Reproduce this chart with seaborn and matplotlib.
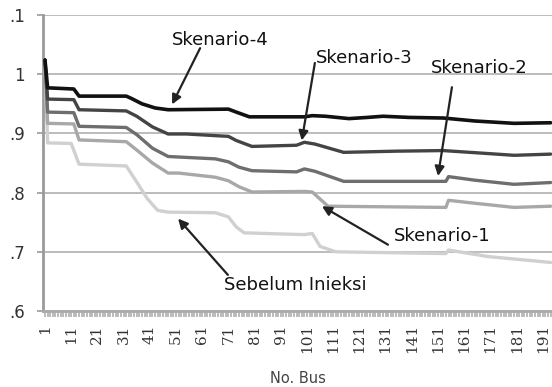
import matplotlib
matplotlib.use("Agg")
import matplotlib.pyplot as plt
import seaborn as sns
import numpy as np

# ---- data (bus number, voltage p.u.) read at breakpoints ----
bus_s4 = [1, 2, 12, 14, 32, 34, 38, 43, 48, 71, 74, 79, 100, 103, 108, 117, 124, 130, 140, 153, 165, 180, 194]
v_s4 = [1.024, 0.977, 0.975, 0.963, 0.963, 0.959, 0.950, 0.943, 0.940, 0.941, 0.936, 0.928, 0.928, 0.930,
        0.929, 0.925, 0.927, 0.929, 0.927, 0.926, 0.921, 0.917, 0.918]

bus_s3 = [1, 2, 12, 14, 32, 36, 42, 48, 55, 71, 74, 80, 97, 100, 104, 115, 135, 153, 170, 180, 194]
v_s3 = [1.024, 0.958, 0.957, 0.940, 0.938, 0.929, 0.911, 0.899, 0.899, 0.895, 0.888, 0.878, 0.880, 0.885,
        0.882, 0.868, 0.870, 0.871, 0.866, 0.863, 0.865]

bus_s2 = [1, 2, 12, 14, 32, 36, 42, 48, 66, 71, 75, 80, 97, 100, 104, 115, 154, 155, 165, 180, 194]
v_s2 = [1.024, 0.936, 0.935, 0.912, 0.910, 0.898, 0.875, 0.861, 0.857, 0.852, 0.843, 0.837, 0.835, 0.840,
        0.836, 0.819, 0.819, 0.827, 0.821, 0.814, 0.817]

bus_s1 = [1, 2, 12, 14, 32, 36, 42, 48, 52, 66, 71, 75, 80, 100, 103, 109, 154, 155, 165, 180, 194]
v_s1 = [1.024, 0.917, 0.916, 0.889, 0.886, 0.872, 0.850, 0.833, 0.833, 0.826, 0.820, 0.810, 0.801, 0.802,
        0.801, 0.777, 0.775, 0.787, 0.782, 0.775, 0.777]

bus_s0 = [1, 2, 11, 14, 32, 36, 40, 44, 48, 66, 71, 74, 77, 100, 103, 106, 112, 154, 155, 170, 194]
v_s0 = [1.024, 0.884, 0.883, 0.848, 0.845, 0.818, 0.790, 0.770, 0.767, 0.766, 0.759, 0.742, 0.732, 0.729,
        0.731, 0.709, 0.700, 0.697, 0.703, 0.692, 0.682]

series_names = ["Sebelum Inieksi", "Skenario-1", "Skenario-2", "Skenario-3", "Skenario-4"]
y_ticks = [0.6, 0.7, 0.8, 0.9, 1.0, 1.1]
y_ticklabels = [".6", ".7", ".8", ".9", "1", ".1"]
x_ticks = list(range(1, 195, 10))
x_ticklabels = [str(t) for t in x_ticks]
x_label = "No. Bus"

sns.set_style("white")
plt.rcParams['font.family'] = ['DejaVu Sans']

fig = plt.figure(figsize=(5.52, 3.87), dpi=100)
ax = fig.add_axes([0.0779, 0.1964, 0.9221, 0.7648])

colors = ["#d0d0d0", "#a8a8a8", "#6e6e6e", "#444444", "#111111"]
widths = [2.4, 2.4, 2.4, 2.4, 2.6]
data = [(bus_s0, v_s0), (bus_s1, v_s1), (bus_s2, v_s2), (bus_s3, v_s3), (bus_s4, v_s4)]
for (bx, vy), c, w, n in zip(data, colors, widths, series_names):
    sns.lineplot(x=bx, y=vy, ax=ax, color=c, lw=w, solid_joinstyle='round', solid_capstyle='round',
                 zorder=3, label=n, legend=False)

ax.set_xlim(0.24, 194.5)
ax.set_ylim(0.6, 1.1)
ax.set_yticks(y_ticks)
ax.set_yticklabels(y_ticklabels)
ax.set_xticks(x_ticks)
ax.set_xticklabels(x_ticklabels, rotation=90, fontfamily='DejaVu Serif', fontsize=11, color='#333333')
ax.set_xticks(range(1, 195), minor=True)

ax.yaxis.grid(True, color='#b0b0b0', lw=1.2, zorder=0)
ax.xaxis.grid(False)
for s in ['top', 'right']:
    ax.spines[s].set_visible(False)
ax.spines['left'].set_color('#9a9a9a')
ax.spines['left'].set_linewidth(2)
ax.spines['bottom'].set_color('#aaaaaa')
ax.spines['bottom'].set_linewidth(2)

ax.tick_params(axis='y', which='major', left=True, length=4, width=1.2, color='#9a9a9a', pad=9,
               labelsize=12, labelcolor='#333333')
ax.tick_params(axis='x', which='both', bottom=True, length=4.5, width=1.3, color='#b5b5b5', pad=5)

ax.set_xlabel(x_label, fontsize=10.5, color='#444444', labelpad=13)
ax.set_ylabel("")

# ---- annotations (arrow tip on the line, text placed in data coords) ----
arrow_kw = dict(arrowstyle='-|>', color='#222222', lw=1.6, mutation_scale=14, shrinkA=0, shrinkB=0)
ann = [
    ("Skenario-4", (49.5, 0.949), (60.2, 1.044), (67.8, 1.057)),
    ("Skenario-3", (99.0, 0.888), (104.0, 1.019), (122.8, 1.028)),
    ("Skenario-2", (151.0, 0.828), (156.3, 0.978), (166.6, 1.011)),
    ("Skenario-1", (106.7, 0.777), (131.9, 0.712), (152.5, 0.726)),
    ("Sebelum Inieksi", (51.8, 0.756), (70.8, 0.661), (96.4, 0.644)),
]
for txt, tip, tail, tpos in ann:
    ax.annotate("", xy=tip, xytext=tail, arrowprops=arrow_kw, zorder=5)
    ax.text(tpos[0], tpos[1], txt, ha='center', va='center', fontsize=13, color='#111111', zorder=6)

fig.savefig("out.png", dpi=100)
